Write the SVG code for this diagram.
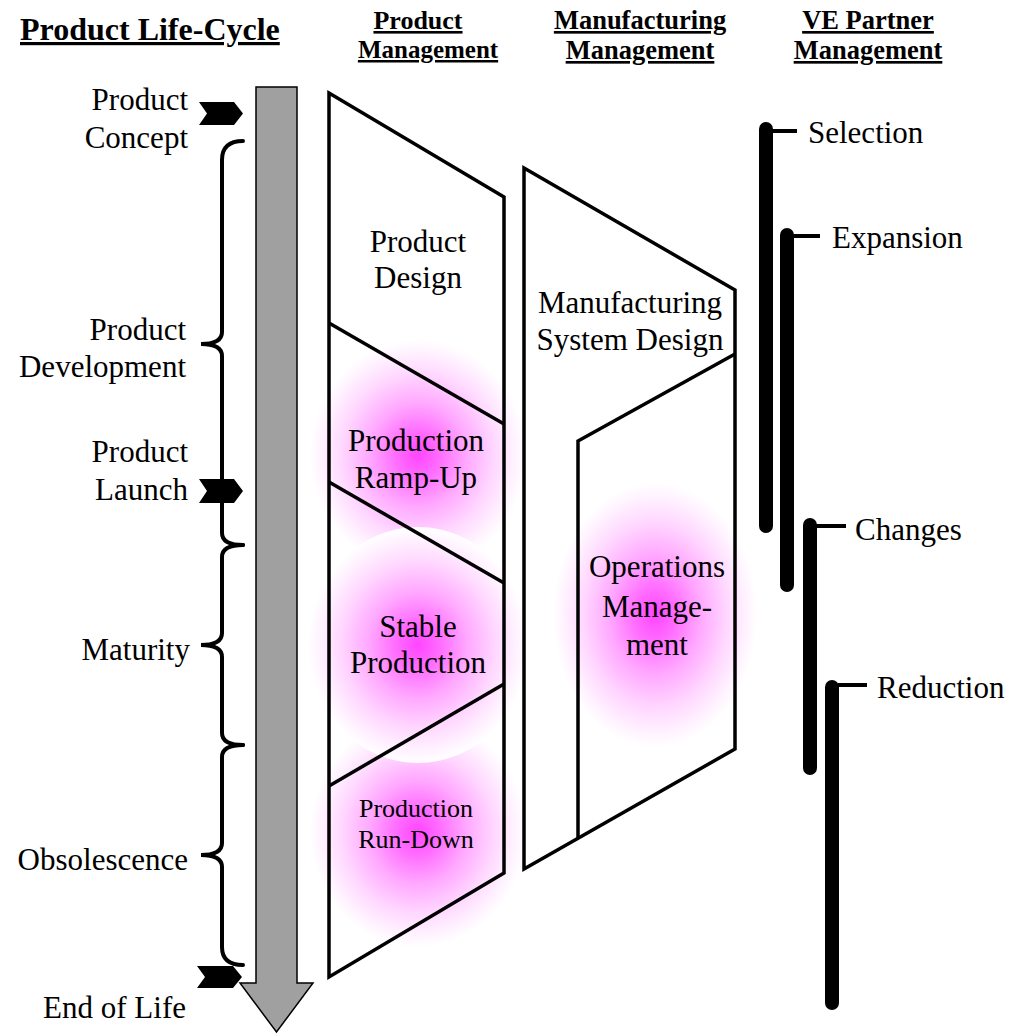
<svg xmlns="http://www.w3.org/2000/svg" width="1010" height="1035" viewBox="0 0 1010 1035">
  <style>
    .serif { font-family: "Liberation Serif", "Times New Roman", serif; fill: #000; }
    .lbl { font-size: 31px; }
    .small { font-size: 26px; }
    .head { font-weight: bold; text-decoration: underline; }
    .outline { fill: none; stroke: #000; stroke-width: 3.5; stroke-linejoin: miter; }
    .brace { fill: none; stroke: #000; stroke-width: 4; stroke-linecap: round; }
    .chevron { fill: #000; }
    .bar { stroke: #000; stroke-width: 14; stroke-linecap: round; }
    .tick { stroke: #000; stroke-width: 4; }
  </style>
  <defs>
    <radialGradient id="glow">
      <stop offset="0" stop-color="#ff45ff"/>
      <stop offset="0.2" stop-color="#ff6cff"/>
      <stop offset="0.45" stop-color="#ffa8ff"/>
      <stop offset="0.7" stop-color="#ffd6ff"/>
      <stop offset="0.88" stop-color="#fff0ff"/>
      <stop offset="1" stop-color="#ffffff"/>
    </radialGradient>
  </defs>

  <rect width="1010" height="1035" fill="#fff"/>

  <!-- column headings -->
  <g id="headings" class="serif head">
    <text x="20" y="40" font-size="32">Product Life-Cycle</text>
    <text x="418" y="29" font-size="26" text-anchor="middle">Product</text>
    <text x="428" y="58" font-size="25" text-anchor="middle">Management</text>
    <text x="640" y="29" font-size="26.5" text-anchor="middle">Manufacturing</text>
    <text x="640" y="59" font-size="26.5" text-anchor="middle">Management</text>
    <text x="868" y="29" font-size="26.5" text-anchor="middle">VE Partner</text>
    <text x="868" y="59" font-size="26.5" text-anchor="middle">Management</text>
  </g>

  <!-- highlight glows behind the running phases -->
  <g id="glows">
    <ellipse cx="418" cy="455" rx="108" ry="115" fill="url(#glow)"/>
    <ellipse cx="418" cy="832" rx="108" ry="115" fill="url(#glow)"/>
    <ellipse cx="418" cy="645" rx="110" ry="118" fill="url(#glow)"/>
    <ellipse cx="655" cy="615" rx="102" ry="132" fill="url(#glow)"/>
  </g>

  <!-- life-cycle timeline arrow -->
  <g id="timeline">
    <polygon points="256,87 297,87 297,983 313,983 276.5,1032 240,983 256,983" fill="#a0a0a0" stroke="#000" stroke-width="1.5"/>
  </g>

  <!-- phase braces and milestone chevrons -->
  <g id="connectors">
    <path class="brace" d="M243,141 Q222,141 222,160 L222,332 Q222,344 201,344 Q222,344 222,356 L222,533 Q222,545 243,545"/>
    <path class="brace" d="M243,545 Q222,545 222,557 L222,633 Q222,645 201,645 Q222,645 222,657 L222,733 Q222,745 243,745"/>
    <path class="brace" d="M243,745 Q222,745 222,757 L222,843 Q222,855 201,855 Q222,855 222,867 L222,947 Q222,965 243,965"/>
    <polygon class="chevron" points="199,102 234,102 243,113.5 234,125 199,125 207,113.5"/>
    <polygon class="chevron" points="199,479 234,479 243,491 234,503 199,503 207,491"/>
    <polygon class="chevron" points="197,966 233,966 242,977 233,988 197,988 205,977"/>
  </g>

  <!-- life-cycle stage labels -->
  <g id="stage-concept" class="serif lbl" text-anchor="end">
    <text x="188" y="110">Product</text>
    <text x="188" y="148">Concept</text>
  </g>
  <g id="stage-development" class="serif lbl" text-anchor="end">
    <text x="186" y="340">Product</text>
    <text x="186" y="377">Development</text>
  </g>
  <g id="stage-launch" class="serif lbl" text-anchor="end">
    <text x="188" y="462">Product</text>
    <text x="188" y="500">Launch</text>
  </g>
  <g id="stage-maturity" class="serif lbl" text-anchor="end">
    <text x="190" y="660">Maturity</text>
  </g>
  <g id="stage-obsolescence" class="serif lbl" text-anchor="end">
    <text x="188" y="870">Obsolescence</text>
  </g>
  <g id="stage-eol" class="serif lbl" text-anchor="end">
    <text x="186" y="1018">End of Life</text>
  </g>

  <!-- product management column -->
  <g id="product-management">
    <polygon class="outline" points="329,93 504,197 504,873 329,977"/>
    <line class="outline" x1="329" y1="323" x2="504" y2="424"/>
    <line class="outline" x1="329" y1="482" x2="504" y2="583"/>
    <line class="outline" x1="504" y1="684" x2="329" y2="786"/>
  </g>
  <g id="product-design" class="serif lbl" text-anchor="middle">
    <text x="418" y="252">Product</text>
    <text x="418" y="288">Design</text>
  </g>
  <g id="production-ramp-up" class="serif lbl" text-anchor="middle">
    <text x="416" y="451">Production</text>
    <text x="416" y="488">Ramp-Up</text>
  </g>
  <g id="stable-production" class="serif lbl" text-anchor="middle">
    <text x="418" y="637">Stable</text>
    <text x="418" y="673">Production</text>
  </g>
  <g id="production-run-down" class="serif small" text-anchor="middle">
    <text x="416" y="817">Production</text>
    <text x="416" y="848">Run-Down</text>
  </g>

  <!-- manufacturing management column -->
  <g id="manufacturing-management">
    <polygon class="outline" points="524,168 735,290 735,749 524,869"/>
    <polyline class="outline" points="735,354 578,441 578,838"/>
  </g>
  <g id="manufacturing-system-design" class="serif lbl" text-anchor="middle">
    <text x="630" y="313">Manufacturing</text>
    <text x="630" y="350">System Design</text>
  </g>
  <g id="operations-management" class="serif lbl" text-anchor="middle">
    <text x="657" y="577">Operations</text>
    <text x="657" y="617">Manage-</text>
    <text x="657" y="655">ment</text>
  </g>

  <!-- VE partner management activity bars -->
  <g id="partner-selection">
    <line class="bar" x1="766" y1="129" x2="766" y2="526"/>
    <line class="tick" x1="772" y1="131" x2="797" y2="131"/>
    <text class="serif lbl" x="808" y="143">Selection</text>
  </g>
  <g id="partner-expansion">
    <line class="bar" x1="787" y1="235" x2="787" y2="585"/>
    <line class="tick" x1="793" y1="236" x2="820" y2="236"/>
    <text class="serif lbl" x="832" y="248">Expansion</text>
  </g>
  <g id="partner-changes">
    <line class="bar" x1="810" y1="525" x2="810" y2="768"/>
    <line class="tick" x1="816" y1="526" x2="846" y2="526"/>
    <text class="serif lbl" x="855" y="540">Changes</text>
  </g>
  <g id="partner-reduction">
    <line class="bar" x1="832" y1="687" x2="832" y2="1003"/>
    <line class="tick" x1="838" y1="685" x2="867" y2="685"/>
    <text class="serif lbl" x="877" y="698">Reduction</text>
  </g>
</svg>
